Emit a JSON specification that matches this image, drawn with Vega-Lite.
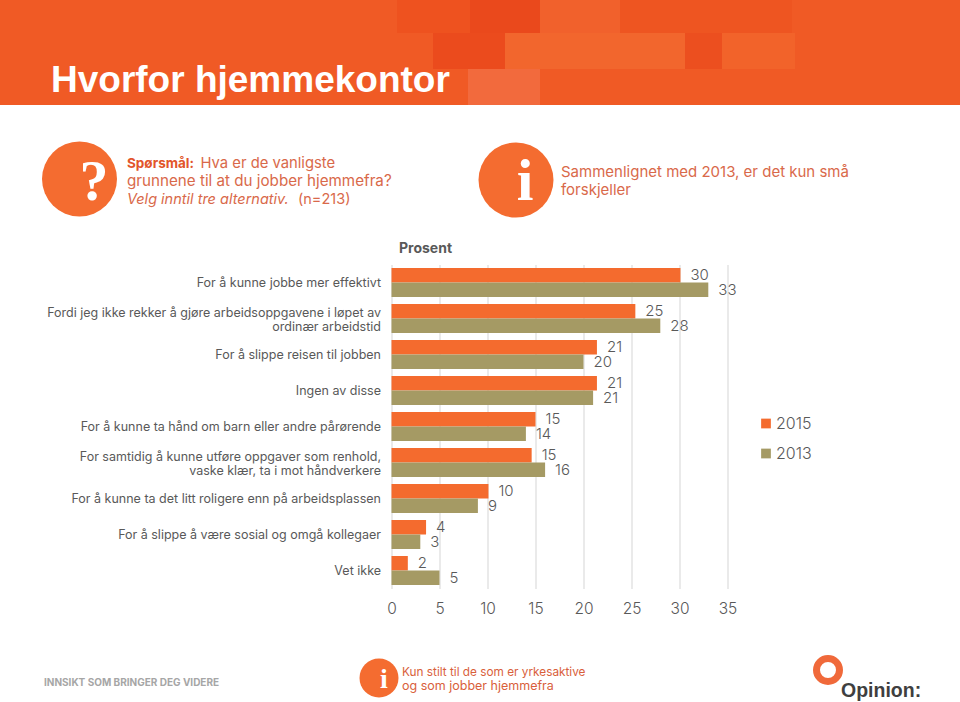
{"$schema":"https://vega.github.io/schema/vega-lite/v6.json","width":336,"height":324,"autosize":"none","padding":{"left":391.5,"top":264.5,"right":232.5,"bottom":113.5},"background":"#ffffff","config":{"view":{"stroke":null},"font":"Inter"},"datasets":{"survey":[{"reason":"For å kunne jobbe mer effektivt","series":"2015","value":30.1,"label":"30"},{"reason":"For å kunne jobbe mer effektivt","series":"2013","value":33,"label":"33"},{"reason":"Fordi jeg ikke rekker å gjøre arbeidsoppgavene i løpet av|ordinær arbeidstid","series":"2015","value":25.4,"label":"25"},{"reason":"Fordi jeg ikke rekker å gjøre arbeidsoppgavene i løpet av|ordinær arbeidstid","series":"2013","value":28,"label":"28"},{"reason":"For å slippe reisen til jobben","series":"2015","value":21.4,"label":"21"},{"reason":"For å slippe reisen til jobben","series":"2013","value":20,"label":"20"},{"reason":"Ingen av disse","series":"2015","value":21.4,"label":"21"},{"reason":"Ingen av disse","series":"2013","value":21,"label":"21"},{"reason":"For å kunne ta hånd om barn eller andre pårørende","series":"2015","value":15,"label":"15"},{"reason":"For å kunne ta hånd om barn eller andre pårørende","series":"2013","value":14,"label":"14"},{"reason":"For samtidig å kunne utføre oppgaver som renhold,|vaske klær, ta i mot håndverkere","series":"2015","value":14.6,"label":"15"},{"reason":"For samtidig å kunne utføre oppgaver som renhold,|vaske klær, ta i mot håndverkere","series":"2013","value":16,"label":"16"},{"reason":"For å kunne ta det litt roligere enn på arbeidsplassen","series":"2015","value":10.1,"label":"10"},{"reason":"For å kunne ta det litt roligere enn på arbeidsplassen","series":"2013","value":9,"label":"9"},{"reason":"For å slippe å være sosial og omgå kollegaer","series":"2015","value":3.6,"label":"4"},{"reason":"For å slippe å være sosial og omgå kollegaer","series":"2013","value":3,"label":"3"},{"reason":"Vet ikke","series":"2015","value":1.7,"label":"2"},{"reason":"Vet ikke","series":"2013","value":5,"label":"5"}]},"layer":[
{"data":{"values":[{}]},"mark":{"type":"rect","x":-391.5,"x2":568.5,"y":-264.5,"y2":-159.5,"fill":"#f05a25"},"encoding":{}},
{"data":{"values":[{}]},"mark":{"type":"rect","x":5.5,"x2":148.5,"y":-264.5,"y2":-231.5,"fill":"#ec4f1d","opacity":0.7},"encoding":{}},
{"data":{"values":[{}]},"mark":{"type":"rect","x":78.5,"x2":148.5,"y":-264.5,"y2":-231.5,"fill":"#e8441a","opacity":0.6},"encoding":{}},
{"data":{"values":[{}]},"mark":{"type":"rect","x":148.5,"x2":228.5,"y":-264.5,"y2":-231.5,"fill":"#f1642f","opacity":0.7},"encoding":{}},
{"data":{"values":[{}]},"mark":{"type":"rect","x":228.5,"x2":400.5,"y":-264.5,"y2":-231.5,"fill":"#ec4f1d","opacity":0.5},"encoding":{}},
{"data":{"values":[{}]},"mark":{"type":"rect","x":41.5,"x2":113.5,"y":-231.5,"y2":-195.5,"fill":"#e8441a","opacity":0.7},"encoding":{}},
{"data":{"values":[{}]},"mark":{"type":"rect","x":113.5,"x2":293.5,"y":-231.5,"y2":-195.5,"fill":"#f3692f","opacity":0.8},"encoding":{}},
{"data":{"values":[{}]},"mark":{"type":"rect","x":293.5,"x2":330.5,"y":-231.5,"y2":-195.5,"fill":"#e8441a","opacity":0.5},"encoding":{}},
{"data":{"values":[{}]},"mark":{"type":"rect","x":330.5,"x2":403.5,"y":-231.5,"y2":-195.5,"fill":"#f3692f","opacity":0.6},"encoding":{}},
{"data":{"values":[{}]},"mark":{"type":"rect","x":76.5,"x2":148.5,"y":-195.5,"y2":-159.5,"fill":"#f26c40","opacity":0.9},"encoding":{}},
{"data":{"values":[{"note":"Hvorfor hjemmekontor"}]},"mark":{"type":"text","x":-340.5,"y":-172.5,"align":"left","baseline":"alphabetic","font":"Liberation Sans","fontWeight":"bold","fontSize":37,"fill":"#ffffff"},"encoding":{"text":{"field":"note"}}},
{"data":{"values":[{}]},"mark":{"type":"point","shape":"circle","filled":true,"x":-312,"y":-85.5,"size":5625,"fill":"#f46c30","opacity":1},"encoding":{}},
{"data":{"values":[{}]},"mark":{"type":"point","shape":"circle","filled":true,"x":124.5,"y":-84.5,"size":5625,"fill":"#f46c30","opacity":1},"encoding":{}},
{"data":{"values":[{}]},"mark":{"type":"point","shape":"circle","filled":true,"x":-12.5,"y":413.5,"size":1521,"fill":"#f46c30","opacity":1},"encoding":{}},
{"data":{"values":[{"note":"?"}]},"mark":{"type":"text","x":-297.5,"y":-64.5,"align":"center","baseline":"alphabetic","font":"Liberation Serif","fontWeight":"bold","fontSize":58,"fill":"#ffffff"},"encoding":{"text":{"field":"note"}}},
{"data":{"values":[{"note":"i"}]},"mark":{"type":"text","x":133.5,"y":-64.5,"align":"center","baseline":"alphabetic","font":"Liberation Serif","fontWeight":"bold","fontSize":60,"fill":"#ffffff"},"encoding":{"text":{"field":"note"}}},
{"data":{"values":[{"note":"i"}]},"mark":{"type":"text","x":-7.5,"y":423.5,"align":"center","baseline":"alphabetic","font":"Liberation Serif","fontWeight":"bold","fontSize":28,"fill":"#ffffff"},"encoding":{"text":{"field":"note"}}},
{"data":{"values":[{"note":"Spørsmål:"}]},"mark":{"type":"text","x":-264.5,"y":-97,"align":"left","baseline":"alphabetic","fontSize":13.5,"fontWeight":"bold","fill":"#e2552a"},"encoding":{"text":{"field":"note"}}},
{"data":{"values":[{"note":"Hva er de vanligste"}]},"mark":{"type":"text","x":-191,"y":-97,"align":"left","baseline":"alphabetic","fontSize":14.8,"fill":"#d9694a"},"encoding":{"text":{"field":"note"}}},
{"data":{"values":[{"note":"grunnene til at du jobber hjemmefra?"}]},"mark":{"type":"text","x":-264.5,"y":-79,"align":"left","baseline":"alphabetic","fontSize":15.2,"fill":"#d9694a"},"encoding":{"text":{"field":"note"}}},
{"data":{"values":[{"note":"Velg inntil tre alternativ."}]},"mark":{"type":"text","x":-264.5,"y":-61,"align":"left","baseline":"alphabetic","fontSize":14.5,"fontStyle":"italic","fill":"#d9694a"},"encoding":{"text":{"field":"note"}}},
{"data":{"values":[{"note":"(n=213)"}]},"mark":{"type":"text","x":-93.5,"y":-61,"align":"left","baseline":"alphabetic","fontSize":14.5,"fill":"#d9694a"},"encoding":{"text":{"field":"note"}}},
{"data":{"values":[{"note":"Sammenlignet med 2013, er det kun små"}]},"mark":{"type":"text","x":169.5,"y":-87.5,"align":"left","baseline":"alphabetic","fontSize":15,"fill":"#d9694a"},"encoding":{"text":{"field":"note"}}},
{"data":{"values":[{"note":"forskjeller"}]},"mark":{"type":"text","x":169.5,"y":-69.5,"align":"left","baseline":"alphabetic","fontSize":15,"fill":"#d9694a"},"encoding":{"text":{"field":"note"}}},
{"data":{"values":[{"note":"Prosent"}]},"mark":{"type":"text","x":7.5,"y":-12,"align":"left","baseline":"alphabetic","fontSize":14,"fontWeight":"bold","fill":"#595959"},"encoding":{"text":{"field":"note"}}},
{"data":{"values":[{"note":"INNSIKT SOM BRINGER DEG VIDERE"}]},"mark":{"type":"text","x":-347.5,"y":421.5,"align":"left","baseline":"alphabetic","fontSize":10,"fontWeight":"bold","fill":"#a6a6a6"},"encoding":{"text":{"field":"note"}}},
{"data":{"values":[{"note":"Kun stilt til de som er yrkesaktive"}]},"mark":{"type":"text","x":10.5,"y":411,"align":"left","baseline":"alphabetic","fontSize":11.8,"fill":"#d9603b"},"encoding":{"text":{"field":"note"}}},
{"data":{"values":[{"note":"og som jobber hjemmefra"}]},"mark":{"type":"text","x":10.5,"y":425,"align":"left","baseline":"alphabetic","fontSize":12.5,"fill":"#d9603b"},"encoding":{"text":{"field":"note"}}},
{"data":{"values":[{}]},"mark":{"type":"point","shape":"circle","filled":false,"x":436.5,"y":405.5,"size":529,"stroke":"#f0693a","strokeWidth":7,"opacity":1},"encoding":{}},
{"data":{"values":[{"note":"Opinion:"}]},"mark":{"type":"text","x":449.5,"y":432,"align":"left","baseline":"alphabetic","font":"Liberation Sans","fontWeight":"bold","fontSize":19.5,"fill":"#3f3f3f"},"encoding":{"text":{"field":"note"}}},
{"data":{"name":"survey"},"mark":{"type":"bar"},"encoding":{"y":{"field":"reason","type":"nominal","sort":null,"title":null,"scale":{"paddingInner":0.194,"paddingOuter":0.097},"axis":{"labelExpr":"split(datum.label,'|')","labelFontSize":12.5,"labelColor":"#595959","labelPadding":11,"labelLimit":345,"ticks":false,"domain":false,"grid":false,"labelOffset":{"expr":"indexof(datum.label,'|')>=0?-6:0"}}},"x":{"field":"value","type":"quantitative","title":null,"scale":{"domain":[0,35],"nice":false},"axis":{"values":[0,5,10,15,20,25,30,35],"grid":true,"gridColor":"#e3e3e3","gridWidth":1.5,"ticks":false,"domain":false,"labelFontSize":15.5,"labelFontWeight":300,"labelColor":"#595959","labelPadding":13,"labelFlush":false}},"yOffset":{"field":"series","type":"nominal","scale":{"domain":["2015","2013"]}},"color":{"field":"series","type":"nominal","title":null,"scale":{"domain":["2015","2013"],"range":["#f46b2e","#a59a64"]},"legend":{"orient":"none","legendX":366.5,"legendY":151,"symbolType":"square","symbolSize":95,"symbolOpacity":1,"labelFontSize":16,"labelFontWeight":300,"labelColor":"#595959","rowPadding":14,"labelOffset":2,"title":null}}}},
{"data":{"name":"survey"},"mark":{"type":"text","align":"left","baseline":"middle","dx":10,"fontSize":15,"fontWeight":300,"fill":"#595959"},"encoding":{"y":{"field":"reason","type":"nominal","sort":null},"x":{"field":"value","type":"quantitative"},"yOffset":{"field":"series","type":"nominal","scale":{"domain":["2015","2013"]}},"text":{"field":"label"}}}
]}
